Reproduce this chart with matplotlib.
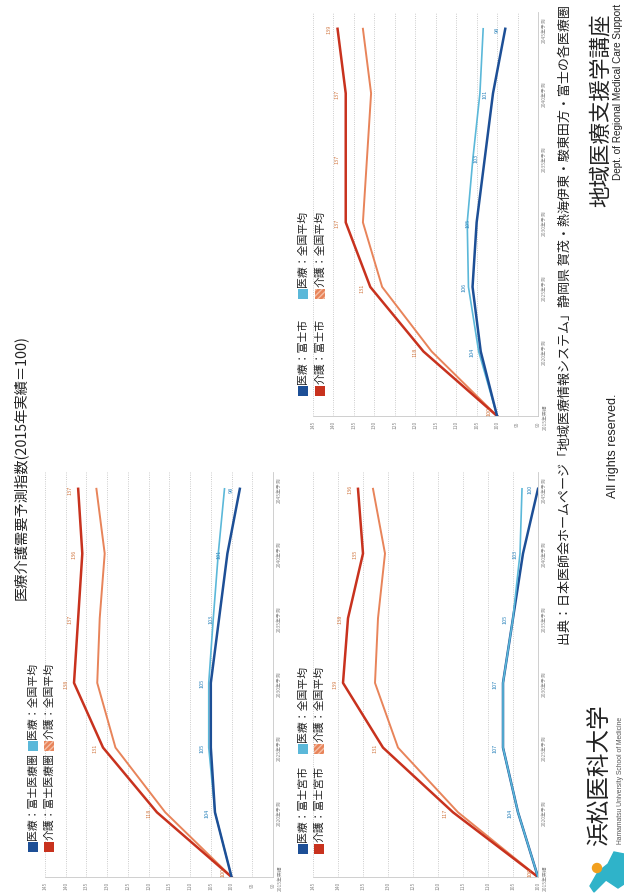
import numpy as np
import matplotlib.pyplot as plt
from matplotlib.patches import Rectangle, Circle, Polygon

plt.rcParams['font.family'] = ['Noto Sans CJK JP', 'DejaVu Sans']

W, H = 624, 895

years = ['2015年実績', '2020年予測', '2025年予測', '2030年予測',
         '2035年予測', '2040年予測', '2045年予測']

# 富士医療圏
fuji_area_med = [100, 104, 105, 105, 103, 101, 98]
fuji_area_care = [100, 118, 131, 138, 137, 136, 137]
nat1_med = [100, 104, 105.5, 105.5, 104.4, 103.2, 101.7]
nat1_care = [100, 116, 128, 132.4, 131.8, 130.6, 132.6]

# 富士宮市
fujinomiya_med = [100, 104, 107, 107, 105, 103, 100]
fujinomiya_care = [100, 117, 131, 139, 138, 135, 136]
nat2_med = [100, 104, 107, 107, 105, 103.6, 103.2]
nat2_care = [100, 116, 128, 132.6, 132, 130.6, 133]

# 富士市
fuji_city_med = [100, 104, 106, 105, 103, 101, 98]
fuji_city_care = [100, 118, 131, 137, 137, 137, 139]
nat3_med = [100, 104.5, 107, 107.3, 105.9, 104.2, 103.4]
nat3_care = [100, 116, 128.1, 132.8, 131.8, 130.8, 132.8]

C_CARE = '#c8321e'
C_CARE_NAT = '#e8845a'
C_MED = '#1d4f96'
C_MED_NAT = '#5bb8d9'
C_CARE_TXT = '#d27a45'
C_MED_TXT = '#2f86bd'

fig = plt.figure(figsize=(W / 100, H / 100), dpi=100)


def fx(x):
    return x / W


def fy(y):
    return 1 - y / H


def vtext(x, y, s, size, color='#222222', va='bottom', **kw):
    # page is turned on its side, so all text runs bottom to top
    fig.text(fx(x), fy(y), s, rotation=90, ha='center', va=va,
             fontsize=size, color=color, **kw)


def chart(x0, x1, ybot, ytop, vmax, vmin, med, care, nmed, ncare, nat_on_top=False):
    ax = fig.add_axes([fx(x0), fy(ybot), (x1 - x0) / W, (ybot - ytop) / H])
    idx = np.arange(len(years))
    ax.set_xlim(vmax, vmin)
    ax.set_ylim(0, 6.26)
    ax.set_xticks(np.arange(vmin, vmax + 1, 5))
    ax.set_xticklabels([str(v) for v in range(vmin, vmax + 1, 5)])
    ax.set_yticks(idx)
    ax.set_yticklabels(years)
    ax.yaxis.tick_right()
    ax.tick_params(axis='both', labelsize=3.5, labelcolor='#888888',
                   length=0, pad=3, labelrotation=90)
    for lab in ax.get_yticklabels():
        lab.set_va('center')
    ax.grid(axis='x', color='#bbbbbb', linestyle=':', linewidth=0.6)
    for s in ['top', 'left']:
        ax.spines[s].set_visible(False)
    for s in ['bottom', 'right']:
        ax.spines[s].set_color('#c8c8c8')
        ax.spines[s].set_linewidth(0.6)

    z_nat = 3 if nat_on_top else 1
    ax.plot(ncare, idx, color=C_CARE_NAT, lw=1.4, zorder=2)
    ax.plot(care, idx, color=C_CARE, lw=1.8, zorder=2.5)
    ax.plot(nmed, idx, color=C_MED_NAT, lw=1.2, zorder=z_nat + 1)
    ax.plot(med, idx, color=C_MED, lw=1.8, zorder=2.5)

    for i, v in enumerate(care):
        dy = 4 if i == 0 else 0
        ax.annotate(str(v), (v, i), xytext=(-6, dy), textcoords='offset points',
                    rotation=90, ha='center', va='center', fontsize=4,
                    color=C_CARE_TXT, zorder=6)
    for i, v in enumerate(med):
        if i == 0:
            continue
        ax.annotate(str(v), (v, i), xytext=(-6, 0), textcoords='offset points',
                    rotation=90, ha='center', va='center', fontsize=4,
                    color=C_MED_TXT, zorder=6)
    return ax


def legend(x1, x2, y1, y2, area):
    rows = [
        (x1, y1, C_MED, None, '医療：' + area),
        (x1, y2, C_MED_NAT, None, '医療：全国平均'),
        (x2, y1, C_CARE, None, '介護：' + area),
        (x2, y2, C_CARE_NAT, '//////', '介護：全国平均'),
    ]
    for x, y, c, hatch, s in rows:
        sq = Rectangle((fx(x - 5), fy(y + 5)), 10 / W, 10 / H, transform=fig.transFigure,
                       facecolor=c, edgecolor=c if hatch is None else '#f4c0a8',
                       hatch=hatch, lw=0)
        fig.patches.append(sq)
        vtext(x, y - 8, s, 7.8)


chart(45, 273, 878, 473, 145, 90, fuji_area_med, fuji_area_care, nat1_med, nat1_care)
chart(313, 538, 878, 473, 145, 100, fujinomiya_med, fujinomiya_care, nat2_med, nat2_care,
      nat_on_top=True)
chart(313, 538, 417, 13, 145, 90, fuji_city_med, fuji_city_care, nat3_med, nat3_care)

legend(33, 49, 848, 747, '富士医療圏')
legend(303, 319, 850, 750, '富士宮市')
legend(303, 320, 392, 295, '富士市')

vtext(20, 600, '医療介護需要予測指数(2015年実績＝100)', 10.3)
vtext(565, 645, '出典：日本医師会ホームページ「地域医療情報システム」静岡県 賀茂・熱海伊東・駿東田方・富士の各医療圏', 9.4)
vtext(613, 446, 'All rights reserved.', 9, va='center', family='Liberation Sans')
vtext(601, 110, '地域医療支援学講座', 15.5, va='center')
vtext(618, 92, 'Dept. of Regional Medical Care Support', 7.2, va='center', family='Liberation Sans')
vtext(600, 775, '浜松医科大学', 17, va='center')
vtext(620, 780, 'Hamamatsu University School of Medicine', 4.9, va='center', family='Liberation Sans',
      color='#555555')

# logo mark
lg = fig.add_axes([fx(584), fy(895), 40 / W, 45 / H])
lg.set_xlim(0, 40)
lg.set_ylim(0, 45)
lg.axis('off')
lg.add_patch(Polygon([[10, 2], [22, 14], [34, 6], [40, 10], [40, 40], [30, 42],
                      [24, 30], [14, 22], [6, 8]], closed=True, color='#2fb3c9'))
lg.add_patch(Circle((13, 26), 4.5, color='#f2a01e'))

fig.savefig('out.png', dpi=100, facecolor='white')
